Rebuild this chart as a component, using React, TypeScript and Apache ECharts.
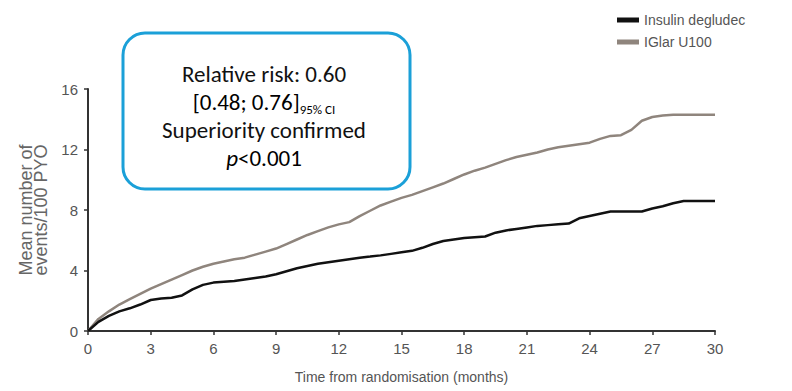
import React, { useEffect, useRef } from "react";
import * as echarts from "echarts";

const months = [
  0, 0.5, 1, 1.5, 2, 2.5, 3, 3.5, 4, 4.5, 5, 5.5, 6, 6.5, 7, 7.5, 8, 8.5, 9, 9.5,
  10, 10.5, 11, 11.5, 12, 12.5, 13, 13.5, 14, 14.5, 15, 15.5, 16, 16.5, 17, 17.5,
  18, 18.5, 19, 19.5, 20, 20.5, 21, 21.5, 22, 22.5, 23, 23.5, 24, 24.5, 25, 25.5,
  26, 26.5, 27, 27.5, 28, 28.5, 29, 29.5, 30,
];

const degludec = [
  0, 0.6, 1.0, 1.3, 1.5, 1.75, 2.05, 2.15, 2.2, 2.35, 2.75, 3.05, 3.2, 3.25, 3.3,
  3.4, 3.5, 3.6, 3.75, 3.95, 4.15, 4.3, 4.45, 4.55, 4.65, 4.75, 4.85, 4.92, 5.0,
  5.1, 5.2, 5.3, 5.5, 5.75, 5.95, 6.05, 6.15, 6.2, 6.25, 6.5, 6.65, 6.75, 6.85,
  6.95, 7.0, 7.05, 7.1, 7.45, 7.6, 7.75, 7.9, 7.9, 7.9, 7.9, 8.1, 8.25, 8.45, 8.6,
  8.6, 8.6, 8.6,
];

const iglar = [
  0, 0.8, 1.3, 1.75, 2.1, 2.45, 2.8, 3.1, 3.4, 3.7, 4.0, 4.25, 4.45, 4.6, 4.75,
  4.85, 5.05, 5.25, 5.45, 5.75, 6.05, 6.35, 6.6, 6.85, 7.05, 7.2, 7.6, 7.95, 8.3,
  8.55, 8.8, 9.0, 9.25, 9.5, 9.75, 10.05, 10.35, 10.6, 10.8, 11.05, 11.3, 11.5,
  11.65, 11.8, 12.0, 12.15, 12.25, 12.35, 12.45, 12.7, 12.9, 12.95, 13.3, 13.9,
  14.15, 14.25, 14.3, 14.3, 14.3, 14.3, 14.3,
];

const seriesNames = ["Insulin degludec", "IGlar U100"];
const xTicks = [0, 3, 6, 9, 12, 15, 18, 21, 24, 27, 30];
const yTicks = [0, 4, 8, 12, 16];
const boxLines = ["Relative risk: 0.60", "[0.48; 0.76]", "95% CI", "Superiority confirmed", "p", "<0.001"];

const narrow = "'Liberation Sans Narrow', 'Arial Narrow', 'Liberation Sans', Arial, sans-serif";
const boxFont = "Carlito, Calibri, 'Open Sans', 'Noto Sans', sans-serif";

export default function App() {
  const ref = useRef<HTMLDivElement>(null);
  useEffect(() => {
    if (!ref.current) return;
    const chart = echarts.init(ref.current, null, { renderer: "svg" });
    const pair = (ys: number[]) => months.map((m, i) => [m, ys[i]]);
    chart.setOption({
      animation: false,
      grid: { left: 88, right: 77, top: 89, bottom: 60, containLabel: false },
      legend: {
        orient: "vertical",
        left: 612,
        top: 8,
        itemWidth: 22,
        itemHeight: 5,
        itemGap: 8,
        icon: "rect",
        textStyle: { fontFamily: narrow, fontSize: 14, color: "#555" },
        data: seriesNames,
      },
      xAxis: {
        type: "value",
        min: 0,
        max: 30,
        interval: 3,
        name: "Time from randomisation (months)",
        nameLocation: "middle",
        nameGap: 39,
        nameTextStyle: { fontFamily: narrow, fontSize: 14, color: "#555", padding: [0, 0, 0, 0] },
        axisLine: { show: true, lineStyle: { color: "#333", width: 2 } },
        axisTick: { show: true, length: 4, lineStyle: { color: "#333", width: 1.5 } },
        axisLabel: {
          fontFamily: narrow,
          fontSize: 15,
          color: "#555",
          margin: 10,
          formatter: (v: number) => (xTicks.includes(v) ? String(v) : ""),
        },
        splitLine: { show: false },
      },
      yAxis: {
        type: "value",
        min: 0,
        max: 16,
        interval: 4,
        name: "Mean number of\nevents/100 PYO",
        nameLocation: "middle",
        nameGap: 38,
        nameRotate: 90,
        nameTextStyle: { fontFamily: narrow, fontSize: 18, color: "#666", lineHeight: 15 },
        axisLine: { show: true, lineStyle: { color: "#333", width: 2 } },
        axisTick: { show: true, length: 4, lineStyle: { color: "#333", width: 1.5 } },
        axisLabel: {
          fontFamily: narrow,
          fontSize: 15,
          color: "#555",
          margin: 10,
          formatter: (v: number) => (yTicks.includes(v) ? String(v) : ""),
        },
        splitLine: { show: false },
      },
      series: [
        {
          name: seriesNames[0],
          type: "line",
          data: pair(degludec),
          showSymbol: false,
          symbol: "none",
          lineStyle: { color: "#111", width: 2.5 },
          itemStyle: { color: "#111" },
          z: 3,
        },
        {
          name: seriesNames[1],
          type: "line",
          data: pair(iglar),
          showSymbol: false,
          symbol: "none",
          lineStyle: { color: "#8f857d", width: 2.5 },
          itemStyle: { color: "#8f857d" },
          z: 2,
        },
      ],
      graphic: [
        {
          type: "rect",
          shape: { x: 123, y: 33, width: 287, height: 156, r: 22 },
          style: { fill: "#fff", stroke: "#1ba0d8", lineWidth: 3 },
          z: 10,
        },
        {
          type: "text",
          x: 264,
          y: 74,
          style: { text: boxLines[0], font: `normal 400 23px ${boxFont}`, fill: "#111", align: "center", verticalAlign: "middle" },
          z: 11,
        },
        {
          type: "text",
          x: 264,
          y: 102,
          style: {
            text: `{a|${boxLines[1]}}{s|${boxLines[2]}}`,
            align: "center",
            verticalAlign: "middle",
            rich: {
              a: { fontFamily: boxFont, fontSize: 23, fontWeight: "normal", color: "#111" },
              s: { fontFamily: boxFont, fontSize: 13, fontWeight: "normal", color: "#111", padding: [14, 0, 0, 0] },
            },
          },
          z: 11,
        },
        {
          type: "text",
          x: 264,
          y: 130,
          style: { text: boxLines[3], font: `normal 400 23px ${boxFont}`, fill: "#111", align: "center", verticalAlign: "middle" },
          z: 11,
        },
        {
          type: "text",
          x: 264,
          y: 158,
          style: {
            text: `{i|${boxLines[4]}}{n|${boxLines[5]}}`,
            align: "center",
            verticalAlign: "middle",
            rich: {
              i: { fontFamily: boxFont, fontSize: 23, fontStyle: "italic", fontWeight: "normal", color: "#111" },
              n: { fontFamily: boxFont, fontSize: 23, fontWeight: "normal", color: "#111" },
            },
          },
          z: 11,
        },
      ],
    });
    return () => chart.dispose();
  }, []);
  return <div ref={ref} style={{ width: 792, height: 391, position: "absolute", left: 0, top: 0 }} />;
}
